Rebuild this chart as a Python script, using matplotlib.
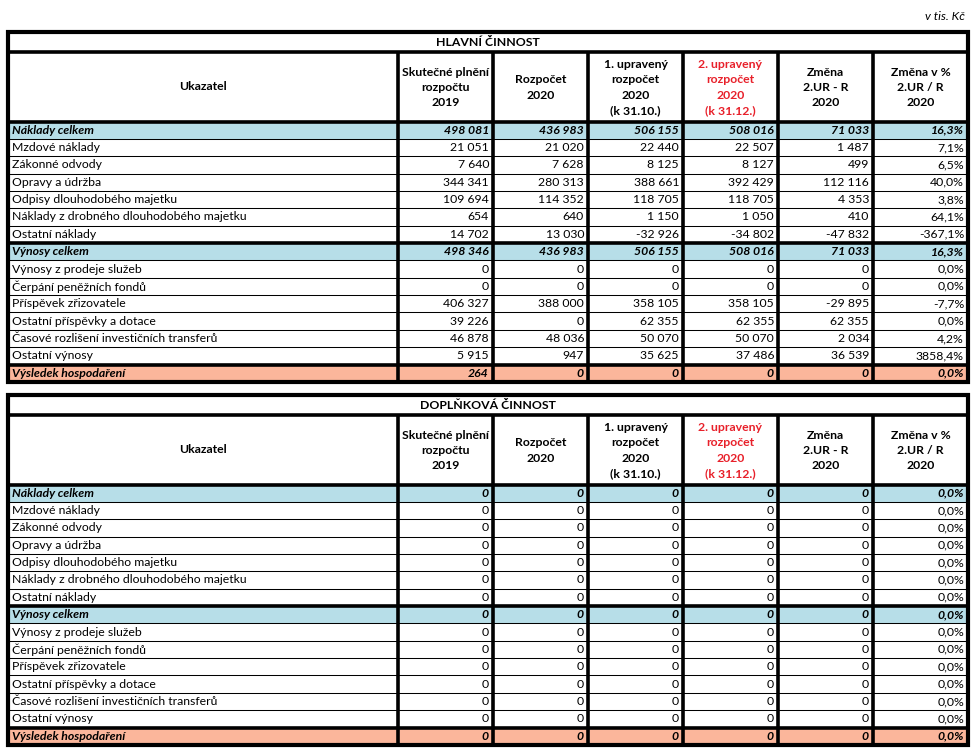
import matplotlib.pyplot as plt
from matplotlib.patches import Rectangle

plt.rcParams['font.family'] = ['Lato', 'DejaVu Sans']

# ---- data ----
row_labels = ["Náklady celkem", "Mzdové náklady", "Zákonné odvody", "Opravy a údržba",
              "Odpisy dlouhodobého majetku", "Náklady z drobného dlouhodobého majetku",
              "Ostatní náklady", "Výnosy celkem", "Výnosy z prodeje služeb",
              "Čerpání peněžních fondů", "Příspěvek zřizovatele", "Ostatní příspěvky a dotace",
              "Časové rozlišení investičních transferů", "Ostatní výnosy", "Výsledek hospodaření"]
headers = ["Skutečné plnění\nrozpočtu\n2019", "Rozpočet\n2020",
           "1. upravený\nrozpočet\n2020\n(k 31.10.)", "2. upravený\nrozpočet\n2020\n(k 31.12.)",
           "Změna\n2.UR - R\n2020", "Změna v %\n2.UR / R\n2020"]

hl_skutecnost = [498081, 21051, 7640, 344341, 109694, 654, 14702,
                 498346, 0, 0, 406327, 39226, 46878, 5915, 264]
hl_rozpocet = [436983, 21020, 7628, 280313, 114352, 640, 13030,
               436983, 0, 0, 388000, 0, 48036, 947, 0]
hl_ur1 = [506155, 22440, 8125, 388661, 118705, 1150, -32926,
          506155, 0, 0, 358105, 62355, 50070, 35625, 0]
hl_ur2 = [508016, 22507, 8127, 392429, 118705, 1050, -34802,
          508016, 0, 0, 358105, 62355, 50070, 37486, 0]
hl_zmena = [71033, 1487, 499, 112116, 4353, 410, -47832,
            71033, 0, 0, -29895, 62355, 2034, 36539, 0]
hl_zmena_pct = [16.3, 7.1, 6.5, 40.0, 3.8, 64.1, -367.1,
                16.3, 0.0, 0.0, -7.7, 0.0, 4.2, 3858.4, 0.0]

dp_skutecnost = [0, 0, 0, 0, 0, 0, 0, 0, 0, 0, 0, 0, 0, 0, 0]
dp_rozpocet = [0, 0, 0, 0, 0, 0, 0, 0, 0, 0, 0, 0, 0, 0, 0]
dp_ur1 = [0, 0, 0, 0, 0, 0, 0, 0, 0, 0, 0, 0, 0, 0, 0]
dp_ur2 = [0, 0, 0, 0, 0, 0, 0, 0, 0, 0, 0, 0, 0, 0, 0]
dp_zmena = [0, 0, 0, 0, 0, 0, 0, 0, 0, 0, 0, 0, 0, 0, 0]
dp_zmena_pct = [0.0, 0.0, 0.0, 0.0, 0.0, 0.0, 0.0, 0.0, 0.0, 0.0, 0.0, 0.0, 0.0, 0.0, 0.0]

blue_rows = [0, 7]
orange_rows = [14]

# ---- layout (pixel space) ----
col_edges = [8, 398, 493, 588, 683, 778, 873, 968]
row_h = 17.36
thick = 2.6
thin = 0.75
fs = 8.8
c_blue = '#b7dee8'
c_orange = '#fbb69b'


def fmt_num(v):
    return f"{v:,}".replace(",", " ")


def fmt_pct(v):
    return f"{v:.1f}%".replace(".", ",")


fig = plt.figure(figsize=(9.77, 7.53), dpi=100)
ax = fig.add_axes([0, 0, 1, 1])
ax.set_xlim(0, 977)
ax.set_ylim(753, 0)
ax.axis('off')

ax.text(965, 16, "v tis. Kč", ha='right', va='center', fontsize=fs, style='italic')


def draw_table(top, title, cols):
    left, right = col_edges[0], col_edges[-1]
    title_bot = top + 19.5
    head_bot = title_bot + 70
    body_bot = head_bot + row_h * len(row_labels)

    # row fills
    for i in range(len(row_labels)):
        y0 = head_bot + i * row_h
        if i in blue_rows:
            ax.add_patch(Rectangle((left, y0), right - left, row_h, color=c_blue, lw=0, zorder=0))
        if i in orange_rows:
            ax.add_patch(Rectangle((left, y0), right - left, row_h, color=c_orange, lw=0, zorder=0))

    # title and headers
    ax.text((left + right) / 2, (top + title_bot) / 2 + 1, title, ha='center', va='center',
            fontsize=fs, fontweight='bold')
    ax.text((col_edges[0] + col_edges[1]) / 2, (title_bot + head_bot) / 2, "Ukazatel",
            ha='center', va='center', fontsize=fs, fontweight='bold')
    for j, h in enumerate(headers):
        xc = (col_edges[j + 1] + col_edges[j + 2]) / 2
        ax.text(xc, (title_bot + head_bot) / 2 + 1, h, ha='center', va='center',
                fontsize=fs, fontweight='bold', linespacing=1.46,
                color='#e8202a' if j == 3 else 'black')

    # body
    for i, lab in enumerate(row_labels):
        yc = head_bot + (i + 0.5) * row_h
        summary = i in blue_rows or i in orange_rows
        kw = dict(fontsize=fs, va='center')
        if summary:
            kw.update(fontweight='bold', style='italic')
        ax.text(left + 4, yc, lab, ha='left', **kw)
        for j, col in enumerate(cols):
            txt = fmt_pct(col[i]) if j == 5 else fmt_num(col[i])
            ax.text(col_edges[j + 2] - 4, yc, txt, ha='right', **kw)

    # row lines
    for i in range(1, len(row_labels)):
        y = head_bot + i * row_h
        lw = thick if i in (7, 14) else thin
        ax.plot([left, right], [y, y], color='black', lw=lw, solid_capstyle='butt')

    # thick lines
    for y in (title_bot, head_bot):
        ax.plot([left, right], [y, y], color='black', lw=thick, solid_capstyle='butt')
    for x in col_edges[1:-1]:
        ax.plot([x, x], [title_bot, body_bot], color='black', lw=thick, solid_capstyle='butt')
    ax.add_patch(Rectangle((left, top), right - left, body_bot - top, fill=False,
                           ec='black', lw=thick + 0.4, zorder=5))


draw_table(32, "HLAVNÍ ČINNOST",
           [hl_skutecnost, hl_rozpocet, hl_ur1, hl_ur2, hl_zmena, hl_zmena_pct])
draw_table(395, "DOPLŇKOVÁ ČINNOST",
           [dp_skutecnost, dp_rozpocet, dp_ur1, dp_ur2, dp_zmena, dp_zmena_pct])

fig.savefig('out.png', dpi=100)
